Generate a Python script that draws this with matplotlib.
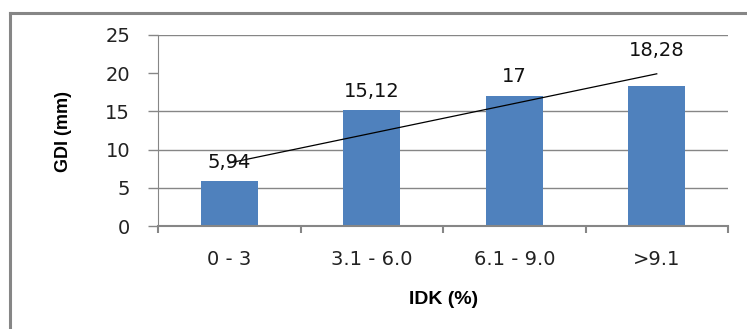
import matplotlib
matplotlib.use('Agg')
import matplotlib.pyplot as plt
from matplotlib.lines import Line2D
import numpy as np

# ---------------------------------------------------

categories = ['0 - 3', '3.1 - 6.0', '6.1 - 9.0', '>9.1']
gdi_values = [5.94, 15.12, 17, 18.28]
value_labels = ['5,94', '15,12', '17', '18,28']
label_offsets = [13, 14, 14, 17]   # points above bar (last one: above trend)
y_ticks = [0, 5, 10, 15, 20, 25]
grid_levels = [5, 10, 15, 25]

bar_color = '#4F81BD'
axis_color = '#868686'

# ---------------------------------------------------

fig = plt.figure(figsize=(7.47, 3.29), dpi=100)
ax = fig.add_axes([158 / 747, 1 - 226 / 329, 570 / 747, 191 / 329])

x = np.arange(len(categories))
ax.bar(x, gdi_values, width=0.4, color=bar_color, zorder=2)

# linear trend line
coef = np.polyfit(x + 1, gdi_values, 1)
trend = np.polyval(coef, x + 1)
ax.plot(x, trend, color='black', linewidth=0.9, zorder=3)

for i, (v, lab) in enumerate(zip(gdi_values, value_labels)):
    base = max(v, trend[i]) if i == len(gdi_values) - 1 else v
    ax.annotate(lab, (x[i], base), xytext=(0, label_offsets[i]),
                textcoords='offset points', ha='center', va='center',
                fontsize=14, color='#111111')

for g in grid_levels:
    ax.axhline(g, color=axis_color, linewidth=1, zorder=1)

ax.set_xlim(-0.5, len(categories) - 0.5)
ax.set_ylim(0, 25)
ax.set_yticks(y_ticks)
ax.set_xticks(x)
ax.set_xticklabels(categories)
ax.set_xticks(np.arange(len(categories) + 1) - 0.5, minor=True)

ax.tick_params(axis='y', length=7, width=1, color=axis_color, pad=13,
               labelsize=14, labelcolor='#222222')
ax.tick_params(axis='x', which='major', length=0, pad=17,
               labelsize=14, labelcolor='#222222')
ax.tick_params(axis='x', which='minor', length=5, width=1.5, color=axis_color)

for s in ['top', 'right']:
    ax.spines[s].set_visible(False)
ax.spines['left'].set_color(axis_color)
ax.spines['bottom'].set_color(axis_color)
ax.spines['bottom'].set_linewidth(1.5)

fig.text(64 / 747, 1 - 131 / 329, 'GDI (mm)', rotation=90, ha='center', va='center',
         fontsize=13, fontweight='bold', family='Liberation Sans')
fig.text(444 / 747, 1 - 299 / 329, 'IDK (%)', ha='center', va='center',
         fontsize=14, fontweight='bold', family='Liberation Sans')

# outer frame (clipped at right and bottom)
fig.add_artist(Line2D([9.5 / 747, 9.5 / 747], [0, 1 - 12.5 / 329],
                      color=axis_color, linewidth=2.2))
fig.add_artist(Line2D([9.5 / 747, 1], [1 - 12.5 / 329, 1 - 12.5 / 329],
                      color=axis_color, linewidth=2.2))

fig.savefig('out.png', dpi=100)
